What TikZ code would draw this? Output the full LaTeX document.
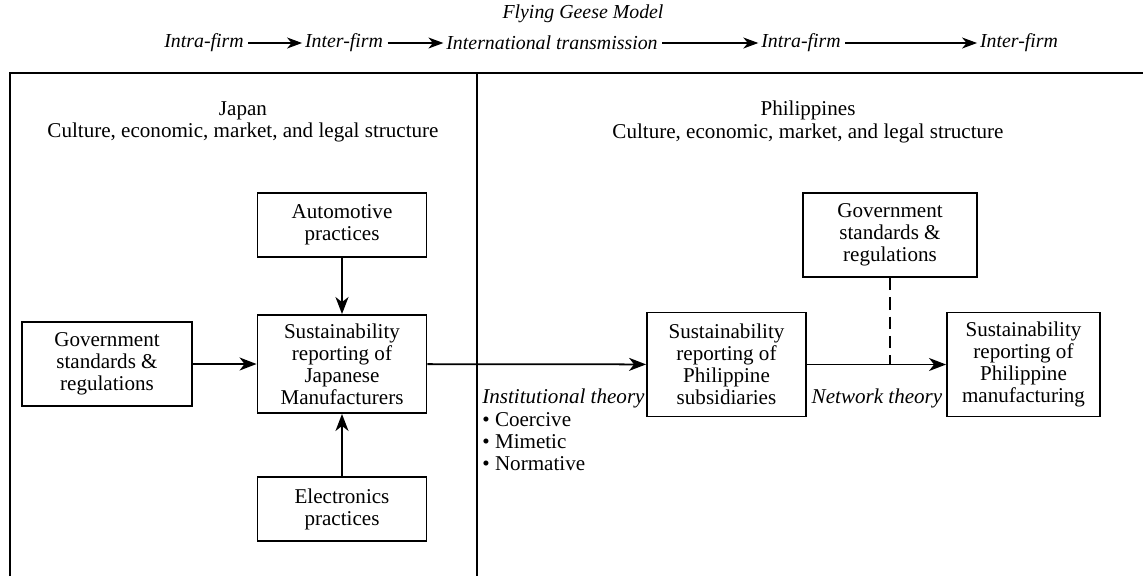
\documentclass[tikz,border=0pt]{standalone}
\usepackage{fontspec}
\setmainfont{Liberation Serif}
\usepackage{tikz}
\usetikzlibrary{arrows.meta}

\begin{document}
\begin{tikzpicture}[
    x=0.02cm, y=-0.02cm,
    font=\fontsize{12}{12.6}\selectfont,
    box/.style={draw, line width=1.1pt, rectangle, text centered, align=center, inner sep=2pt},
    arrow/.style={-{Stealth[length=3.4mm, width=2.6mm, inset=1mm]}, line width=1pt},
    flow/.style={-{Stealth[length=3mm, width=2.2mm, inset=0.9mm]}, line width=0.7pt, shorten <=1pt},
    frame/.style={line width=1.2pt},
    stage/.style={font=\fontsize{11.3}{12}\selectfont\itshape, inner sep=1.5pt}
]
\useasboundingbox (0,0) rectangle (1143,576);

% Flying geese chain
\node[stage] (title) at (583,14) {Flying Geese Model};
\node[stage] (s1) at (204,43) {Intra-firm};
\node[stage] (s2) at (344,43) {Inter-firm};
\node[stage] (s3) at (552,43) {International transmission};
\node[stage] (s4) at (801,43) {Intra-firm};
\node[stage] (s5) at (1019,43) {Inter-firm};

\draw[flow] (s1) -- (s2);
\draw[flow] (s2) -- (s3);
\draw[flow] (s3) -- (s4);
\draw[flow] (s4) -- (s5);

% Country panels
\draw[frame] (10,576) |- (1143,73);
\draw[frame] (477,73) -- (477,576);

\node[align=center] (japan) at (243,122) {Japan\\Culture, economic, market, and legal structure};
\node[align=center] (phil) at (808,122) {Philippines\\Culture, economic, market, and legal structure};

% Japanese side
\node[box, minimum width=3.38cm, minimum height=1.28cm] (auto) at (342,225) {Automotive\\practices};
\node[box, minimum width=3.38cm, minimum height=1.96cm] (sustjp) at (342,364) {Sustainability\\reporting of\\Japanese\\Manufacturers};
\node[box, minimum width=3.38cm, minimum height=1.28cm] (elec) at (342,509) {Electronics\\practices};
\node[box, minimum width=3.4cm, minimum height=1.68cm] (govjp) at (107,364) {Government\\standards \&\\regulations};

% Philippine side
\node[box, minimum width=3.18cm, minimum height=2.08cm] (sustph) at (726.5,364.5) {Sustainability\\reporting of\\Philippine\\subsidiaries};
\node[box, minimum width=3.06cm, minimum height=2.08cm] (mfgph) at (1023.5,364.5) {Sustainability\\reporting of\\Philippine\\manufacturing};
\node[box, minimum width=3.48cm, minimum height=1.68cm] (govph) at (890,235) {Government\\standards \&\\regulations};

% Arrows
\draw[arrow] (auto) -- (sustjp);
\draw[arrow] (elec) -- (sustjp);
\draw[arrow] (govjp) -- (sustjp);
\draw[arrow] (sustjp) -- (sustph);
\draw[arrow] (sustph) -- (mfgph);
\coordinate (netjoin) at (govph.south |- sustph.east);
\draw[line width=1.1pt, dash pattern=on 7pt off 4pt] (govph) -- (netjoin);

% Theory labels
\node[anchor=north west, align=left, inner sep=0pt] (inst) at (482,389)
    {\textit{Institutional theory}\\\textbullet\ Coercive\\\textbullet\ Mimetic\\\textbullet\ Normative};
\node[font=\fontsize{12}{12.6}\selectfont\itshape] (net) at (877,398) {Network theory};

\end{tikzpicture}
\end{document}
